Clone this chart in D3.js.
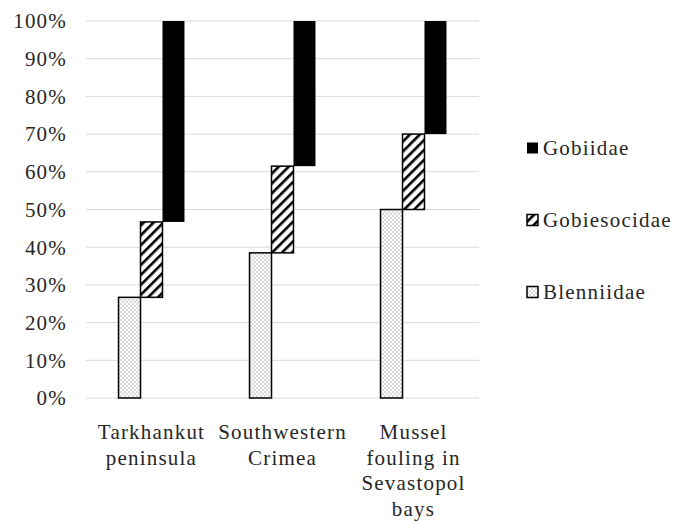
<!DOCTYPE html>
<html>
<head>
<meta charset="utf-8">
<script src="https://cdnjs.cloudflare.com/ajax/libs/d3/7.8.5/d3.min.js"></script>
<style>
  body { margin: 0; background: #fff; }
  text { font-family: "Liberation Serif", "Times New Roman", serif; letter-spacing: 1.2px; }
</style>
</head>
<body>
<div id="chart"></div>
<script>
const svgWidth = 673
const svgHeight = 521

// categories (multi-line labels)
const categories = ["Tarkhankut peninsula", "Southwestern Crimea", "Mussel fouling in Sevastopol bays"]
const categoryLines = [["Tarkhankut", "peninsula"], ["Southwestern", "Crimea"], ["Mussel", "fouling in", "Sevastopol", "bays"]]
const seriesNames = ["Blenniidae", "Gobiesocidae", "Gobiidae"]
// share of each family, %
const blenniidae = [26.7, 38.5, 50]
const gobiesocidae = [20, 23, 20]
const gobiidae = [53.3, 38.5, 30]
const yTicks = [0, 10, 20, 30, 40, 50, 60, 70, 80, 90, 100]

var margin = { left: 86, right: 194, top: 21, bottom: 123 }
var width = svgWidth - margin.left - margin.right,
    height = svgHeight - margin.top - margin.bottom

let svg = d3.select("#chart").append("svg")
  .attr("width", svgWidth)
  .attr("height", svgHeight)

// patterns
let defs = svg.append("defs")
let dots = defs.append("pattern")
  .attr("id", "dots").attr("patternUnits", "userSpaceOnUse")
  .attr("width", 4).attr("height", 4)
dots.append("rect").attr("width", 4).attr("height", 4).attr("fill", "#fff")
dots.append("rect").attr("x", 0.5).attr("y", 0.5).attr("width", 1).attr("height", 1).attr("fill", "#666")
dots.append("rect").attr("x", 2.5).attr("y", 2.5).attr("width", 1).attr("height", 1).attr("fill", "#666")

let stripes = defs.append("pattern")
  .attr("id", "stripes").attr("patternUnits", "userSpaceOnUse")
  .attr("width", 7).attr("height", 7)
  .attr("patternTransform", "rotate(45)")
stripes.append("rect").attr("width", 7).attr("height", 7).attr("fill", "#fff")
stripes.append("rect").attr("x", 0).attr("width", 2.6).attr("height", 7).attr("fill", "#000")

const fills = { "Blenniidae": "url(#dots)", "Gobiesocidae": "url(#stripes)", "Gobiidae": "#000" }

// build floating segments
let rows = []
categories.forEach((c, i) => {
  let vals = [blenniidae[i], gobiesocidae[i], gobiidae[i]]
  let acc = 0
  seriesNames.forEach((s, j) => {
    rows.push({ cat: c, series: s, y0: acc, y1: acc + vals[j] })
    acc += vals[j]
  })
})
rows.forEach(r => { if (r.y1 > 99.5) r.y1 = 100 })

let g = svg.append("g").attr("transform", "translate(" + margin.left + ", " + margin.top + ")")

var x = d3.scaleBand().domain(categories).range([0, width]).padding(0)
var xs = d3.scaleBand().domain(seriesNames).range([0, x.bandwidth()])
  .paddingInner(0).paddingOuter(1.48)
var y = d3.scaleLinear().domain([0, 100]).range([height, 0])

// grid
g.selectAll("line.grid").data(yTicks).enter().append("line")
  .attr("class", "grid")
  .attr("x1", 0).attr("x2", width)
  .attr("y1", d => y(d)).attr("y2", d => y(d))
  .attr("stroke", "#d9d9d9").attr("stroke-width", 1)

// y labels
g.selectAll("text.ylab").data(yTicks).enter().append("text")
  .attr("class", "ylab")
  .attr("x", -19).attr("y", d => y(d))
  .attr("dy", "0.35em")
  .attr("text-anchor", "end")
  .attr("font-size", "21px")
  .attr("fill", "#262626")
  .text(d => d + "%")

// bars
g.selectAll("rect.bar").data(rows).enter().append("rect")
  .attr("class", "bar")
  .attr("x", d => x(d.cat) + xs(d.series))
  .attr("y", d => y(d.y1))
  .attr("width", xs.bandwidth())
  .attr("height", d => y(d.y0) - y(d.y1))
  .attr("fill", d => fills[d.series])
  .attr("stroke", "#000")
  .attr("stroke-width", d => d.series == "Gobiidae" ? 0 : 1.5)

// x labels
categories.forEach((c, i) => {
  let t = g.append("text")
    .attr("class", "xlab")
    .attr("x", x(c) + x.bandwidth() / 2)
    .attr("y", height + 41)
    .attr("text-anchor", "middle")
    .attr("font-size", "21px")
    .attr("fill", "#262626")
  categoryLines[i].forEach((l, k) => {
    t.append("tspan").attr("x", x(c) + x.bandwidth() / 2)
      .attr("dy", k == 0 ? 0 : 25.5).text(l)
  })
})

// legend
let legendOrder = ["Gobiidae", "Gobiesocidae", "Blenniidae"]
let legend = svg.append("g").attr("transform", "translate(527, 148)")
legendOrder.forEach((s, i) => {
  let lg = legend.append("g").attr("transform", "translate(0," + (i * 72) + ")")
  lg.append("rect").attr("x", 0).attr("y", -5.5).attr("width", 11).attr("height", 11)
    .attr("fill", fills[s]).attr("stroke", "#000").attr("stroke-width", s == "Gobiidae" ? 0 : 1.5)
  lg.append("text").attr("class", "leg").attr("x", 16).attr("y", 0).attr("dy", "0.35em")
    .attr("font-size", "21px").attr("fill", "#262626").text(s)
})
</script>
</body>
</html>
